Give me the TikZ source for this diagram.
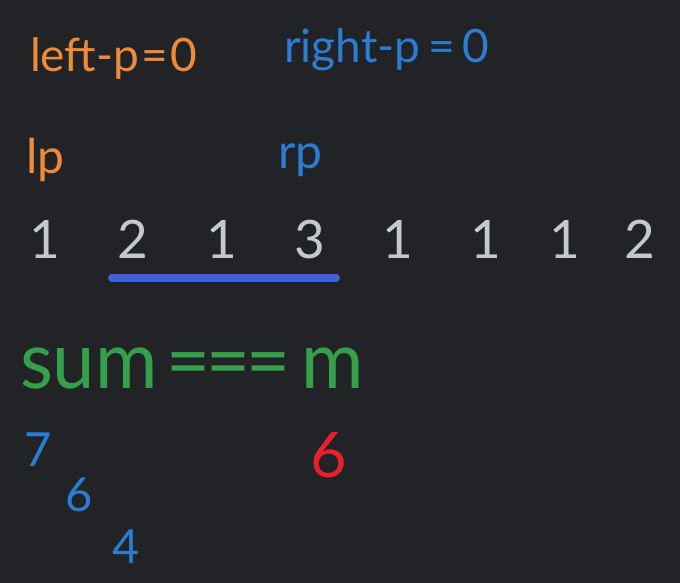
\documentclass[tikz,border=0pt]{standalone}
\usepackage{fontspec}
\setmainfont{Lato}
\newfontfamily\narrowlato[FakeStretch=0.96]{Lato}
\definecolor{bg}{HTML}{212327}
\definecolor{orng}{HTML}{EE8A3A}
\definecolor{blu}{HTML}{2A7DD0}
\definecolor{gry}{HTML}{C5C8CC}
\definecolor{grn}{HTML}{34A04A}
\definecolor{rd}{HTML}{E8202E}
\definecolor{bar}{HTML}{4060DD}
\begin{document}
\begin{tikzpicture}[x=1pt,y=-1pt,
  txt/.style={inner sep=0pt,outer sep=0pt,anchor=base west},
  dig/.style={inner sep=0pt,outer sep=0pt,anchor=base,text=gry,font=\fontsize{53}{60}\selectfont}]
\fill[bg] (0,0) rectangle (680,583);
\useasboundingbox (0,0) rectangle (680,583);
\node[txt,text=orng,font=\fontsize{46}{52}\selectfont] (lpeq) at (30,72) {left-p\kern2.5pt=\kern2.5pt0};
\node[txt,text=blu,font=\fontsize{46}{52}\selectfont] (rpeq) at (284,63) {right-p\,=\,0};
\node[txt,text=orng,font=\fontsize{48}{52}\selectfont] (lp) at (26,173) {lp};
\node[txt,text=blu,font=\fontsize{48}{52}\selectfont] (rp) at (278,168) {rp};
\node[dig] (d1) at (45,258) {1};
\node[dig] (d2) at (133,258) {2};
\node[dig] (d3) at (222,258) {1};
\node[dig] (d4) at (310,258) {3};
\node[dig] (d5) at (398,258) {1};
\node[dig] (d6) at (486,258) {1};
\node[dig] (d7) at (565,258) {1};
\node[dig] (d8) at (640,258) {2};
\coordinate (b1) at (112,278);
\coordinate (b2) at (336,278);
\draw[bar,line width=8pt,line cap=round] (b1) -- (b2);
\node[txt,text=grn,font=\narrowlato\fontsize{79}{84}\selectfont] (sum) at (20,388) {sum\kern9pt=\kern-4pt=\kern-4pt=\kern11pt m};
\node[txt,text=blu,font=\fontsize{47}{52}\selectfont] (n7) at (24,466) {7};
\node[txt,text=blu,font=\fontsize{47}{52}\selectfont] (n6) at (65,511) {6};
\node[txt,text=blu,font=\fontsize{47}{52}\selectfont] (n4) at (112,563) {4};
\node[txt,text=rd,font=\fontsize{63}{68}\selectfont] (r6) at (310,477) {6};
\end{tikzpicture}
\end{document}
